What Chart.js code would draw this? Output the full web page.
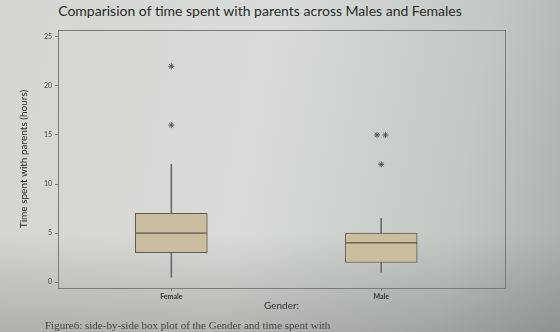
<!DOCTYPE html>
<html>
<head>
<meta charset="utf-8">
<script src="https://cdn.jsdelivr.net/npm/chart.js@4.4.1/dist/chart.umd.min.js"></script>
<style>
  html, body { margin: 0; padding: 0; }
  body {
    width: 560px; height: 332px; overflow: hidden; position: relative;
    background: linear-gradient(100deg, #d3d6d1 0%, #d9dcd8 45%, #c3c8c5 80%, #aab0ad 100%);
  }
  #shade {
    position: absolute; left: 0; top: 0; width: 560px; height: 332px;
    background: linear-gradient(180deg, rgba(0,0,0,0) 70%, rgba(60,60,55,0.25) 100%);
  }
  #title {
    position: absolute; left: 0; width: 520px; top: 2px; text-align: center;
    font: 14px Lato, sans-serif; color: #2a2a2a;
  }
  #caption {
    position: absolute; left: 45px; top: 319px; white-space: nowrap;
    font: 11px "Liberation Serif", serif; color: #444;
  }
  canvas { position: absolute; left: 0; top: 0; }
</style>
</head>
<body>
<div id="shade"></div>
<div id="title">Comparision of time spent with parents across Males and Females</div>
<canvas id="chart" width="560" height="332"></canvas>
<div id="caption">Figure6: side-by-side box plot of the Gender and time spent with</div>
<script>
const groups = ['Female', 'Male'];
const mins = [0.5, 1];
const q1s = [3, 2];
const medians = [5, 4];
const q3s = [7, 5];
const maxs = [12, 6.5];
const outlierGroups = [0, 0, 1, 1, 1];
const outlierValues = [16, 22, 12, 15, 15];
const yTicks = [0, 5, 10, 15, 20, 25];

// spread repeated outliers side by side
const outlierPoints = outlierValues.map((v, i) => {
    const g = outlierGroups[i];
    const same = outlierValues.map((w, j) => j).filter(j => outlierGroups[j] === g && outlierValues[j] === v);
    const k = same.indexOf(i);
    return { x: g + (k - (same.length - 1) / 2) * 0.04, y: v };
});

const boxFill = '#cbbd9f';
const boxLine = '#5f5a4e';
const whiskerColor = '#6c6c6c';

function floating(lo, hi) {
    return groups.map((g, i) => ({ x: i, y: [lo[i], hi[i]] }));
}

const boxStyle = {
    type: 'bar', grouped: false, barThickness: 72,
    backgroundColor: boxFill, borderColor: boxLine, borderWidth: 1, borderSkipped: false
};
const whiskerStyle = {
    type: 'bar', grouped: false, barThickness: 1,
    backgroundColor: whiskerColor, borderWidth: 0
};

const framePlugin = {
    id: 'frame',
    afterDatasetsDraw(chart) {
        const a = chart.chartArea;
        const ctx = chart.ctx;
        ctx.save();
        ctx.strokeStyle = '#7a7c7a';
        ctx.lineWidth = 1;
        ctx.strokeRect(a.left + 0.5, a.top + 0.5, a.right - a.left, a.bottom - a.top);
        ctx.restore();
    }
};

new Chart(document.getElementById('chart'), {
    data: {
        datasets: [
            Object.assign({ data: floating(mins, q1s) }, whiskerStyle),
            Object.assign({ data: floating(q3s, maxs) }, whiskerStyle),
            Object.assign({ data: floating(q1s, medians) }, boxStyle),
            Object.assign({ data: floating(medians, q3s) }, boxStyle),
            {
                type: 'scatter', data: outlierPoints,
                pointStyle: 'star', radius: 3, borderColor: '#555', borderWidth: 1
            }
        ]
    },
    options: {
        responsive: false,
        animation: false,
        layout: { padding: { left: 6, right: 55, top: 30, bottom: 16 } },
        plugins: { legend: { display: false }, tooltip: { enabled: false } },
        scales: {
            x: {
                type: 'linear', min: -0.54, max: 1.59, offset: false,
                grid: { drawOnChartArea: false, tickLength: 3, color: '#777', offset: false },
                border: { color: '#7a7c7a' },
                afterBuildTicks: s => { s.ticks = groups.map((g, i) => ({ value: i })); },
                afterFit: s => { s.height = 28; },
                ticks: {
                    callback: v => groups[v],
                    font: { family: 'Lato', size: 7, weight: 'bold' }, color: '#333', padding: 2
                },
                title: {
                    display: true, text: 'Gender:', color: '#333',
                    font: { family: 'Lato', size: 10 }, padding: { top: 2 }
                }
            },
            y: {
                min: -0.6, max: 25.7,
                grid: { drawOnChartArea: false, tickLength: 3, color: '#777' },
                border: { color: '#7a7c7a' },
                afterBuildTicks: s => { s.ticks = yTicks.map(v => ({ value: v })); },
                afterFit: s => { s.width = 52; },
                ticks: { font: { family: 'Lato', size: 7 }, color: '#444', padding: 3 },
                title: {
                    display: true, text: 'Time spent with parents (hours)', color: '#2a2a2a',
                    font: { family: 'Lato', size: 10 }, padding: { top: 12, bottom: 2 }
                }
            }
        }
    },
    plugins: [framePlugin]
});
</script>
</body>
</html>
